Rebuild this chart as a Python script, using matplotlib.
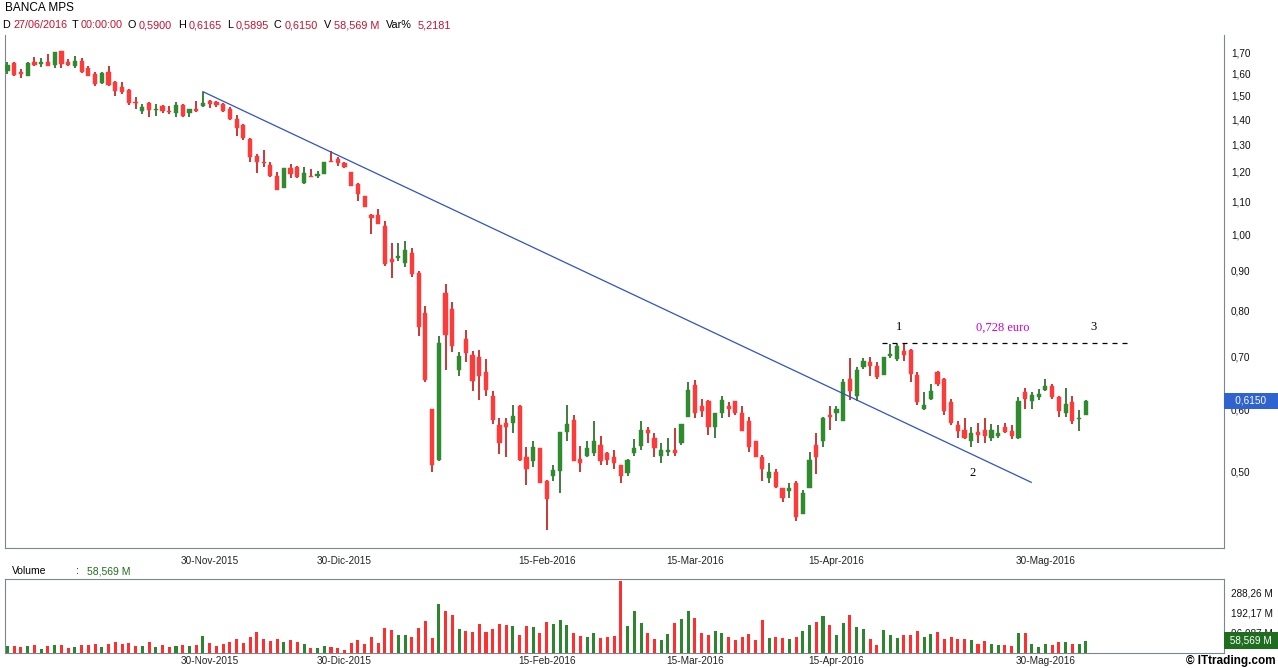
import matplotlib.pyplot as plt
from matplotlib.ticker import NullLocator
import numpy as np

plt.rcParams['font.family'] = ['Liberation Sans', 'DejaVu Sans']

##########   BANCA MPS daily candles (prices)

opens = [1.612, 1.650, 1.607, 1.589, 1.654, 1.645, 1.654, 1.640, 1.709, 1.654,
         1.635, 1.660, 1.626, 1.598, 1.557, 1.607, 1.561, 1.538, 1.525, 1.472,
         1.434, 1.468, 1.436, 1.455, 1.432, 1.426, 1.459, 1.426, 1.442, 1.455,
         1.476, 1.472, 1.463, 1.442, 1.401, 1.376, 1.321, 1.257, 1.235, 1.224,
         1.185, 1.144, 1.214, 1.217, 1.161, 1.185, 1.185, 1.192, 1.239, 1.246,
         1.231, 1.199, 1.158, 1.118, 1.057, 1.057, 1.024, 0.930, 0.933, 0.919,
         0.946, 0.893, 0.794, 0.600, 0.518, 0.842, 0.803, 0.672, 0.736, 0.702,
         0.698, 0.668, 0.624, 0.573, 0.577, 0.577, 0.605, 0.522, 0.515, 0.536,
         0.486, 0.493, 0.501, 0.562, 0.582, 0.519, 0.524, 0.528, 0.541, 0.528,
         0.522, 0.510, 0.498, 0.528, 0.539, 0.565, 0.552, 0.524, 0.530, 0.532,
         0.544, 0.587, 0.643, 0.606, 0.614, 0.570, 0.594, 0.606, 0.614, 0.594,
         0.579, 0.546, 0.522, 0.491, 0.499, 0.476, 0.473, 0.484, 0.442, 0.476,
         0.541, 0.546, 0.589, 0.594, 0.580, 0.655, 0.624, 0.678, 0.688, 0.680,
         0.663, 0.700, 0.694, 0.711, 0.713, 0.663, 0.600, 0.619, 0.668, 0.655,
         0.612, 0.573, 0.565, 0.547, 0.562, 0.565, 0.552, 0.554, 0.570, 0.563,
         0.552, 0.630, 0.614, 0.621, 0.634, 0.642, 0.621, 0.594, 0.612, 0.583,
         0.590]
highs = [1.654, 1.654, 1.621, 1.654, 1.680, 1.675, 1.695, 1.704, 1.709, 1.670,
         1.685, 1.675, 1.635, 1.607, 1.607, 1.635, 1.566, 1.561, 1.529, 1.494,
         1.463, 1.472, 1.463, 1.459, 1.455, 1.472, 1.463, 1.442, 1.476, 1.517,
         1.481, 1.476, 1.468, 1.450, 1.417, 1.380, 1.325, 1.264, 1.279, 1.235,
         1.199, 1.214, 1.228, 1.221, 1.217, 1.210, 1.203, 1.235, 1.276, 1.253,
         1.235, 1.199, 1.161, 1.118, 1.060, 1.076, 1.039, 0.974, 0.974, 0.980,
         0.962, 0.898, 0.810, 0.600, 0.743, 0.865, 0.820, 0.709, 0.756, 0.711,
         0.713, 0.694, 0.632, 0.585, 0.585, 0.608, 0.607, 0.538, 0.547, 0.536,
         0.488, 0.510, 0.562, 0.608, 0.590, 0.539, 0.546, 0.579, 0.555, 0.530,
         0.533, 0.510, 0.519, 0.550, 0.580, 0.570, 0.559, 0.544, 0.552, 0.568,
         0.575, 0.649, 0.653, 0.619, 0.617, 0.594, 0.624, 0.612, 0.614, 0.606,
         0.587, 0.546, 0.525, 0.513, 0.504, 0.476, 0.484, 0.486, 0.474, 0.529,
         0.560, 0.587, 0.605, 0.605, 0.655, 0.696, 0.678, 0.696, 0.698, 0.688,
         0.698, 0.725, 0.725, 0.725, 0.715, 0.668, 0.630, 0.645, 0.670, 0.657,
         0.619, 0.580, 0.585, 0.570, 0.577, 0.584, 0.575, 0.573, 0.577, 0.573,
         0.621, 0.639, 0.630, 0.636, 0.655, 0.645, 0.623, 0.638, 0.624, 0.598,
         0.6165]
lows = [1.598, 1.589, 1.580, 1.589, 1.635, 1.630, 1.635, 1.626, 1.626, 1.635,
        1.626, 1.603, 1.589, 1.543, 1.552, 1.543, 1.498, 1.507, 1.459, 1.442,
        1.421, 1.409, 1.413, 1.426, 1.421, 1.409, 1.409, 1.409, 1.430, 1.450,
        1.446, 1.450, 1.430, 1.397, 1.333, 1.317, 1.235, 1.196, 1.217, 1.182,
        1.138, 1.144, 1.178, 1.178, 1.158, 1.182, 1.178, 1.192, 1.235, 1.221,
        1.214, 1.151, 1.102, 1.082, 1.000, 1.030, 0.911, 0.880, 0.925, 0.908,
        0.882, 0.743, 0.649, 0.499, 0.515, 0.672, 0.709, 0.661, 0.688, 0.632,
        0.617, 0.623, 0.575, 0.527, 0.522, 0.560, 0.515, 0.481, 0.507, 0.483,
        0.422, 0.486, 0.470, 0.547, 0.516, 0.499, 0.522, 0.524, 0.510, 0.510,
        0.504, 0.484, 0.493, 0.524, 0.533, 0.543, 0.522, 0.513, 0.524, 0.524,
        0.541, 0.587, 0.585, 0.587, 0.557, 0.552, 0.585, 0.587, 0.590, 0.563,
        0.530, 0.522, 0.486, 0.484, 0.477, 0.457, 0.463, 0.433, 0.442, 0.476,
        0.497, 0.538, 0.565, 0.580, 0.579, 0.617, 0.614, 0.674, 0.661, 0.655,
        0.663, 0.696, 0.690, 0.690, 0.649, 0.608, 0.598, 0.616, 0.642, 0.590,
        0.573, 0.552, 0.550, 0.538, 0.543, 0.544, 0.547, 0.552, 0.560, 0.550,
        0.550, 0.601, 0.601, 0.617, 0.632, 0.619, 0.587, 0.587, 0.575, 0.563,
        0.5895]
closes = [1.640, 1.593, 1.598, 1.650, 1.640, 1.654, 1.635, 1.704, 1.645, 1.640,
          1.660, 1.607, 1.589, 1.552, 1.603, 1.548, 1.520, 1.516, 1.468, 1.468,
          1.450, 1.438, 1.438, 1.434, 1.428, 1.459, 1.413, 1.442, 1.434, 1.468,
          1.463, 1.459, 1.434, 1.401, 1.364, 1.325, 1.253, 1.235, 1.231, 1.185,
          1.138, 1.214, 1.192, 1.182, 1.196, 1.182, 1.192, 1.235, 1.235, 1.231,
          1.217, 1.151, 1.124, 1.082, 1.048, 1.030, 0.916, 0.922, 0.938, 0.954,
          0.890, 0.762, 0.653, 0.510, 0.727, 0.745, 0.721, 0.700, 0.707, 0.651,
          0.661, 0.634, 0.582, 0.544, 0.570, 0.589, 0.518, 0.504, 0.538, 0.484,
          0.461, 0.503, 0.562, 0.575, 0.516, 0.512, 0.536, 0.546, 0.515, 0.518,
          0.513, 0.493, 0.518, 0.535, 0.565, 0.560, 0.535, 0.532, 0.531, 0.528,
          0.575, 0.634, 0.594, 0.596, 0.570, 0.594, 0.617, 0.601, 0.594, 0.563,
          0.538, 0.522, 0.504, 0.499, 0.478, 0.463, 0.476, 0.438, 0.470, 0.518,
          0.522, 0.585, 0.587, 0.600, 0.649, 0.632, 0.672, 0.690, 0.680, 0.659,
          0.698, 0.705, 0.721, 0.702, 0.664, 0.612, 0.608, 0.632, 0.645, 0.596,
          0.577, 0.563, 0.552, 0.560, 0.557, 0.554, 0.565, 0.559, 0.562, 0.554,
          0.614, 0.619, 0.626, 0.628, 0.642, 0.621, 0.596, 0.610, 0.580, 0.584,
          0.615]
# volume in millions of shares
volumes = [35, 35, 27, 35, 40, 21, 35, 40, 40, 22,
           30, 40, 37, 45, 30, 45, 54, 45, 50, 35,
           35, 54, 30, 40, 30, 35, 38, 35, 40, 83,
           50, 35, 45, 54, 69, 50, 78, 102, 69, 59,
           69, 54, 64, 54, 45, 26, 26, 35, 30, 26,
           16, 50, 64, 45, 78, 50, 122, 112, 88, 88,
           78, 122, 155, 74, 237, 203, 184, 117, 107, 102,
           141, 102, 117, 141, 136, 131, 88, 131, 126, 98,
           150, 141, 160, 136, 98, 83, 78, 98, 74, 78,
           83, 347, 131, 203, 144, 96, 69, 64, 91, 146,
           165, 203, 170, 98, 88, 107, 98, 78, 64, 78,
           93, 64, 160, 74, 78, 74, 69, 78, 107, 136,
           150, 179, 136, 88, 146, 184, 126, 117, 69, 40,
           112, 88, 74, 88, 88, 107, 78, 93, 102, 69,
           78, 69, 69, 64, 45, 59, 45, 40, 40, 35,
           98, 98, 45, 30, 45, 40, 54, 54, 45, 45,
           58.569]

date_labels = ['30-Nov-2015', '30-Dic-2015', '15-Feb-2016', '15-Mar-2016', '15-Apr-2016', '30-Mag-2016']
date_pos = [30, 50, 80, 102, 123, 154]

price_ticks = [0.50, 0.60, 0.70, 0.80, 0.90, 1.00, 1.10, 1.20, 1.30, 1.40, 1.50, 1.60, 1.70]
vol_ticks = [96.087, 192.17, 288.26]
vol_tick_labels = ['96,087 M', '192,17 M', '288,26 M']

# trendline (from the high of 29 down to the projection near 152) and the 0,728 resistance
trend_x = [29, 151.9]
trend_y = [1.517, 0.4846]
resistance = 0.728
res_x = [129.7, 166.4]

last_close = 0.6150
last_vol = 58.569

W, H = 1278, 668
fig = plt.figure(figsize=(W / 100, H / 100), dpi=100)


def fx(px):
    return px / W


def fy(py):
    return 1 - py / H


ax = fig.add_axes([fx(5), fy(548), fx(1224) - fx(5), fy(35) - fy(548)])
axv = fig.add_axes([fx(5), fy(653), fx(1224) - fx(5), fy(579) - fy(653)])

idx = np.arange(len(opens))
o = np.array(opens)
h = np.array(highs)
l = np.array(lows)
c = np.array(closes)
up = c >= o

body_col = np.where(up, '#2e8b2e', '#ff3a3a')
wick_col = np.where(up, '#0a5a0a', '#c00000')

ax.vlines(idx, l, h, colors=wick_col, linewidth=1.1, zorder=2)
body_lo = np.minimum(o, c)
body_h = np.maximum(np.abs(c - o), body_lo * 0.004)
ax.bar(idx, body_h, bottom=body_lo, width=0.62, color=body_col, edgecolor=body_col,
       linewidth=0.3, zorder=3)

ax.plot(trend_x, trend_y, color='#2f52c8', lw=0.9, zorder=4)
ax.plot(res_x, [resistance, resistance], color='black', lw=0.9, ls=(0, (4, 4)), zorder=4)

ax.text(132.3, 0.762, '1', family='Liberation Serif', fontsize=9, ha='center', va='center')
ax.text(147.6, 0.762, '0,728 euro', family='Liberation Serif', fontsize=9, color='#cc00cc',
        ha='center', va='center')
ax.text(161.2, 0.762, '3', family='Liberation Serif', fontsize=9, ha='center', va='center')
ax.text(143.2, 0.498, '2', family='Liberation Serif', fontsize=9, ha='center', va='center')

ax.set_yscale('log')
ax.set_ylim(0.40, 1.79)
ax.set_xlim(-0.37, 180.5)
ax.yaxis.set_minor_locator(NullLocator())
ax.set_yticks(price_ticks)
ax.set_yticklabels([f'{v:.2f}'.replace('.', ',') for v in price_ticks])
ax.yaxis.tick_right()
ax.tick_params(axis='y', length=0, pad=5, labelsize=7.2, labelcolor='#111111')
ax.set_xticks(date_pos)
ax.set_xticklabels(date_labels)
ax.tick_params(axis='x', length=0, pad=6, labelsize=7.2, labelcolor='#222222')
ax.spines['top'].set_visible(False)
for s in ['left', 'right', 'bottom']:
    ax.spines[s].set_color('#7d8590')

ax.text(1.0025, last_close, '   0,6150    ', transform=ax.get_yaxis_transform(), ha='left',
        va='center', color='white', fontsize=7.2, clip_on=False, zorder=6,
        bbox=dict(boxstyle='square,pad=0.3', fc='#2f63cf', ec='none'))

# volume panel
vol_col = np.where(up, '#2d852d', '#ff2f2f')
axv.bar(idx, volumes, width=0.45, color=vol_col)
axv.set_xlim(-0.37, 180.5)
axv.set_ylim(0, 355)
axv.set_yticks(vol_ticks)
axv.set_yticklabels(vol_tick_labels)
axv.yaxis.tick_right()
axv.tick_params(axis='y', length=0, pad=5, labelsize=7.2, labelcolor='#111111')
axv.set_xticks(date_pos)
axv.set_xticklabels(date_labels)
axv.tick_params(axis='x', length=0, pad=2.5, labelsize=7.2, labelcolor='#222222')
for s in axv.spines.values():
    s.set_color('#7d8590')

# in the original the last-volume box sits over the lowest axis label
axv.text(1.0025, last_vol, ' ' + f'{last_vol:.3f} M'.replace('.', ',') + ' ',
         transform=axv.get_yaxis_transform(), ha='left', va='center', color='white',
         fontsize=7.2, clip_on=False, zorder=6,
         bbox=dict(boxstyle='square,pad=0.35', fc='#1f6e1f', ec='none'))

# header
fig.text(fx(5), fy(8), 'BANCA MPS', fontsize=8.5, va='center', ha='left')
header = [('D', 2, '27/06/2016', 13), ('T', 72, '00:00:00', 81), ('O', 127, '0,5900', 139),
          ('H', 178, '0,6165', 189), ('L', 227, '0,5895', 236), ('C', 274, '0,6150', 285),
          ('V', 324, '58,569 M', 334), ('Var%', 386, '5,2181', 418)]
for key, kx, val, vx in header:
    fig.text(fx(kx), fy(25), key, fontsize=7.8, va='center', ha='left')
    fig.text(fx(vx), fy(25), val, fontsize=7.8, va='center', ha='left', color='#c8102e')

fig.text(fx(12), fy(571), 'Volume', fontsize=7.5, va='center', ha='left')
fig.text(fx(76), fy(571), ':', fontsize=7.5, va='center', ha='left')
fig.text(fx(87), fy(571), f'{last_vol:.3f} M'.replace('.', ','), fontsize=7.5, va='center',
         ha='left', color='#1e6e1e')

fig.text(fx(1276), fy(661), '© ITtrading.com', fontsize=8.5, weight='bold', va='center', ha='right')

fig.savefig('out.png', dpi=100)
